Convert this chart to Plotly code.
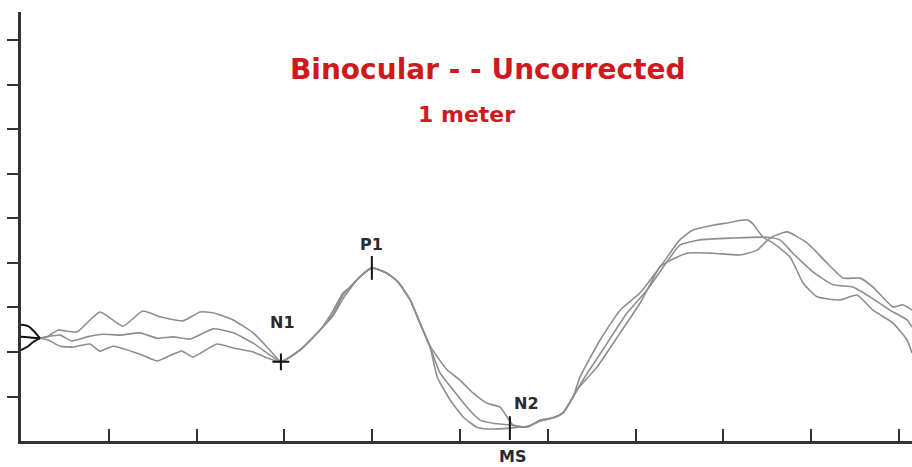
import plotly.graph_objects as go

# ---- data (latency in ms, amplitude in arbitrary units: 1 unit per y tick) ----
start_ms = [0.0, 2.0, 3.4, 5.4]
start_top = [2.61, 2.58, 2.49, 2.31]
start_mid = [2.34, 2.33, 2.32, 2.31]
start_bot = [2.04, 2.13, 2.22, 2.31]

t1_ms = [5.4, 7.4, 10.5, 15.9, 22.5, 29.0, 34.7, 39.6, 46.1, 51.0, 54.7, 60.4, 66.1, 70.9, 74.0,
         79.4, 85.1, 88.8, 91.7, 93.7, 96.5, 99.9, 104.2, 107.4, 110.8, 113.6, 116.5,
         121.3, 125.0, 128.7, 132.7, 136.4, 138.4, 140.1, 144.1, 147.8, 151.5, 154.3,
         157.2, 159.2, 164.9, 170.6, 176.3, 182.8, 187.6, 191.3, 197.0, 201.0, 206.7, 208.4,
         211.3, 214.1, 219.0, 222.7, 226.7, 233.2, 238.0, 242.6, 248.3, 252.3, 253.7]
t1_amp = [2.31, 2.34, 2.49, 2.45, 2.90, 2.58, 2.92, 2.79, 2.70, 2.90, 2.88, 2.72, 2.43, 2.04, 1.78,
          2.04, 2.49, 2.92, 3.33, 3.46, 3.69, 3.89, 3.77, 3.57, 3.17, 2.65, 2.13,
          1.60, 1.37, 1.08, 0.85, 0.76, 0.54, 0.36, 0.31, 0.47, 0.52, 0.63,
          0.99, 1.44, 2.27, 2.94, 3.33, 4.00, 4.52, 4.74, 4.85, 4.90, 4.97, 4.88,
          4.58, 4.45, 4.13, 3.55, 3.24, 3.17, 3.28, 2.94, 2.65, 2.27, 1.98]

t2_ms = [5.4, 7.4, 11.1, 14.5, 18.8, 23.3, 28.2, 33.9, 38.7, 43.3, 48.1, 54.7, 60.4, 66.1, 70.9, 74.0,
         79.4, 85.1, 88.8, 91.7, 93.7, 96.5, 99.9, 104.2, 107.4, 110.8, 113.6, 116.5,
         119.3, 123.0, 127.0, 130.7, 134.4, 139.2, 144.1, 147.8, 151.5, 154.3,
         157.2, 160.0, 166.9, 172.6, 178.2, 183.9, 187.6, 193.3, 202.7, 212.4, 216.1,
         219.8, 225.5, 231.2, 236.9, 241.7, 247.4, 252.3, 253.7]
t2_amp = [2.31, 2.34, 2.38, 2.25, 2.34, 2.40, 2.38, 2.43, 2.31, 2.34, 2.29, 2.52, 2.43, 2.20, 1.93, 1.78,
          2.04, 2.49, 2.85, 3.28, 3.46, 3.69, 3.89, 3.77, 3.57, 3.17, 2.65, 2.11,
          1.53, 1.15, 0.76, 0.47, 0.40, 0.36, 0.31, 0.45, 0.52, 0.63,
          0.99, 1.37, 2.20, 2.88, 3.39, 4.02, 4.40, 4.52, 4.56, 4.58, 4.52,
          4.22, 3.80, 3.51, 3.46, 3.24, 2.94, 2.72, 2.56]

t3_ms = [5.4, 7.7, 11.1, 14.8, 19.6, 22.5, 26.2, 33.9, 38.7, 41.6, 45.8, 49.0, 55.8, 60.4, 66.1, 70.0, 74.0,
         79.4, 85.1, 88.8, 91.7, 93.7, 96.5, 99.9, 104.2, 107.4, 110.8, 113.6, 116.5,
         118.5, 122.2, 125.9, 129.8, 132.7, 139.2, 144.1, 147.8, 151.5, 154.3,
         157.2, 158.3, 164.0, 170.6, 176.3, 181.9, 183.9, 189.6, 197.0, 204.7, 209.6, 213.3,
         218.1, 223.8, 229.5, 234.1, 238.9, 242.6, 248.3, 251.1, 253.7]
t3_amp = [2.31, 2.27, 2.13, 2.11, 2.18, 2.02, 2.13, 1.95, 1.80, 1.89, 2.02, 1.89, 2.18, 2.09, 2.00, 1.87, 1.78,
          2.04, 2.49, 2.81, 3.20, 3.42, 3.69, 3.89, 3.77, 3.57, 3.17, 2.65, 2.11,
          1.44, 0.92, 0.54, 0.31, 0.27, 0.29, 0.33, 0.45, 0.52, 0.63,
          0.99, 1.15, 1.66, 2.43, 3.10, 3.91, 4.02, 4.22, 4.22, 4.18, 4.29, 4.56,
          4.70, 4.45, 4.00, 3.66, 3.66, 3.46, 3.01, 3.06, 2.94]

peak_names = ["N1", "P1", "N2"]
peak_ms = [74.0, 99.9, 139.2]
peak_amp = [1.78, 3.89, 0.29]

x_ticks = [25, 50, 75, 100, 125, 150, 175, 200, 225, 250]
y_ticks = [1, 2, 3, 4, 5, 6, 7, 8, 9]

title_text = "Binocular - - Uncorrected"
subtitle_text = "1 meter"
ms_label = "MS"

fig = go.Figure()

gray = "#8e8e8e"
for xs, ys in [(t1_ms, t1_amp), (t2_ms, t2_amp), (t3_ms, t3_amp)]:
    fig.add_trace(go.Scatter(x=xs, y=ys, mode="lines",
                             line=dict(color=gray, width=1.6, shape="spline", smoothing=0.5),
                             hoverinfo="skip", showlegend=False))

for ys in [start_top, start_mid, start_bot]:
    fig.add_trace(go.Scatter(x=start_ms, y=ys, mode="lines", line=dict(color="#111111", width=2, shape="spline"),
                             hoverinfo="skip", showlegend=False))

# peak markers
fig.add_trace(go.Scatter(x=[peak_ms[0]], y=[peak_amp[0]], mode="markers",
                         marker=dict(symbol="cross-thin-open", size=12, color="#111111",
                                     line=dict(color="#111111", width=2)),
                         hoverinfo="skip", showlegend=False))
fig.add_trace(go.Scatter(x=peak_ms[1:], y=peak_amp[1:], mode="markers",
                         marker=dict(symbol="line-ns-open", size=17, color="#111111",
                                     line=dict(color="#111111", width=2)),
                         hoverinfo="skip", showlegend=False))

label_font = dict(family="DejaVu Sans", size=16, color="#2a2a2a")
offsets = {"N1": (2, 39), "P1": (0, 23), "N2": (17, 25)}
for name, xm, ym in zip(peak_names, peak_ms, peak_amp):
    dx, dy = offsets[name]
    fig.add_annotation(x=xm, y=ym, text="<b>%s</b>" % name, showarrow=False, font=label_font,
                       xshift=dx, yshift=dy, xanchor="center", yanchor="middle")

fig.add_annotation(x=peak_ms[2], y=0, text="<b>%s</b>" % ms_label, showarrow=False, font=label_font,
                   xshift=3, yshift=-15, xanchor="center", yanchor="middle")

red = "#d0191c"
fig.add_annotation(x=0.524, y=0.866, xref="paper", yref="paper", text="<b>%s</b>" % title_text,
                   showarrow=False, font=dict(family="DejaVu Sans", size=28, color=red),
                   xanchor="center", yanchor="middle")
fig.add_annotation(x=0.5, y=0.762, xref="paper", yref="paper", text="<b>%s</b>" % subtitle_text,
                   showarrow=False, font=dict(family="DejaVu Sans", size=22, color=red),
                   xanchor="center", yanchor="middle")

fig.update_xaxes(range=[0, 253.7], showgrid=False, zeroline=False, showline=True, linecolor="#333333",
                 linewidth=3, ticks="inside", ticklen=12, tickwidth=2, tickcolor="#333333",
                 tickvals=x_ticks, showticklabels=False)
fig.update_yaxes(range=[0, 9.64], showgrid=False, zeroline=False, showline=True, linecolor="#333333",
                 linewidth=3, ticks="outside", ticklen=11, tickwidth=2, tickcolor="#333333",
                 tickvals=y_ticks, showticklabels=False)

fig.update_layout(width=912, height=467, margin=dict(l=21, r=0, t=12, b=26),
                  plot_bgcolor="white", paper_bgcolor="white", showlegend=False)

fig.write_html("out.html", config={"displayModeBar": False},
               post_script="document.body.style.margin='0';document.body.style.overflow='hidden';"
                           "document.documentElement.style.overflow='hidden';")
